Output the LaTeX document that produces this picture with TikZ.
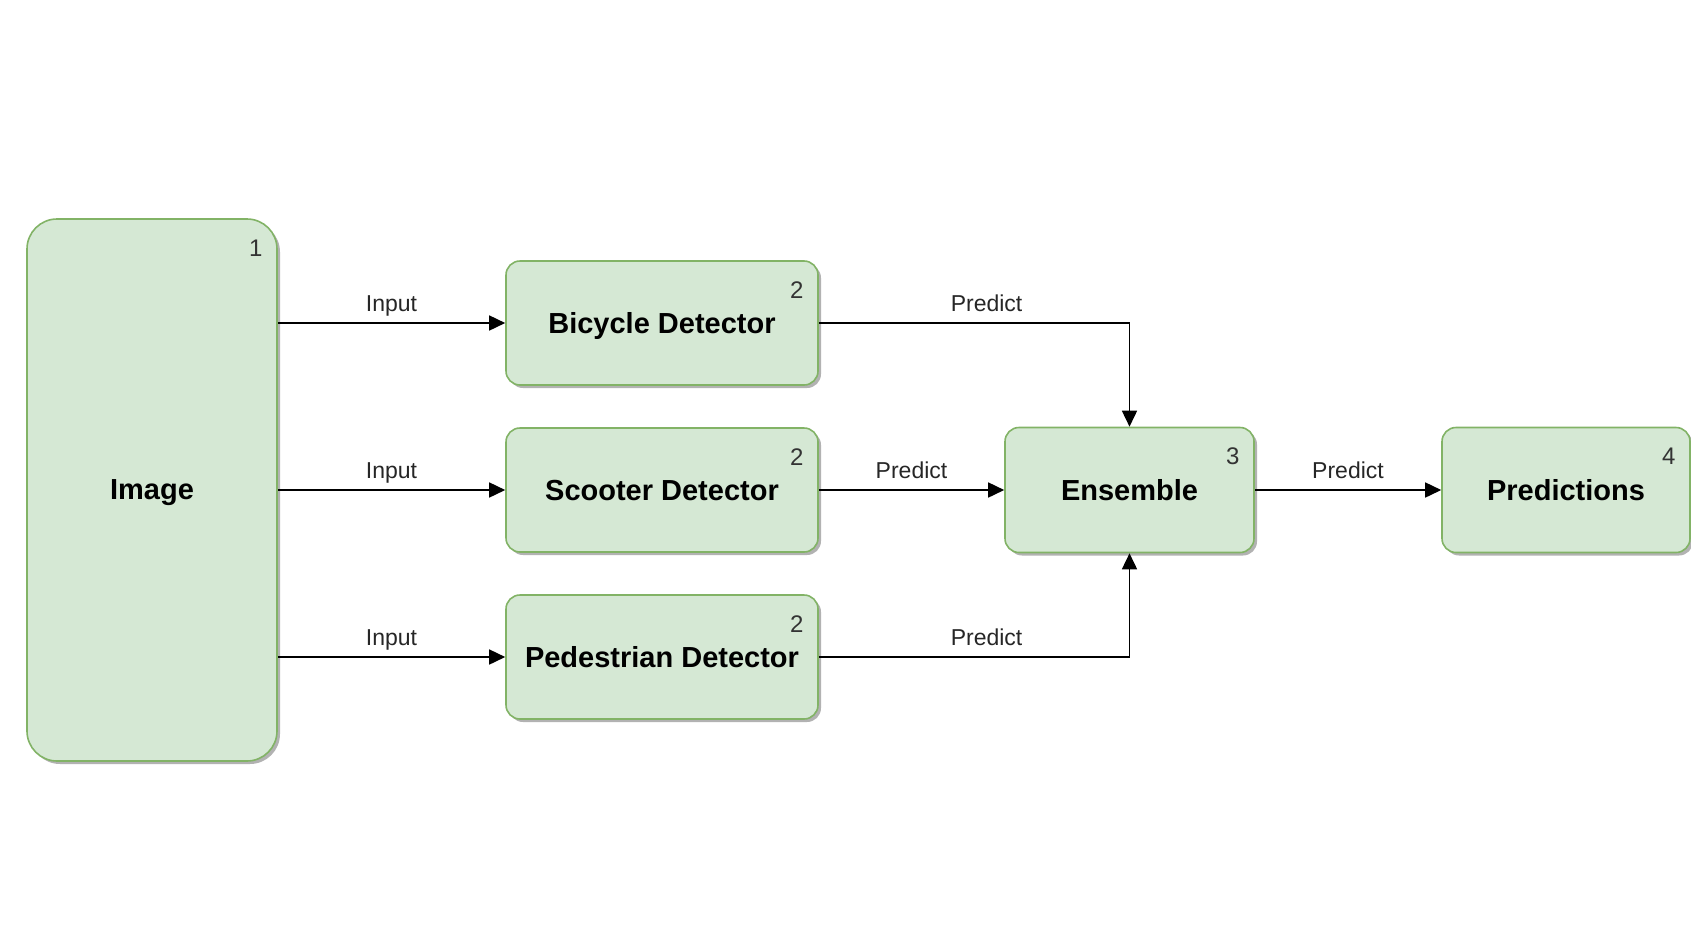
\documentclass[tikz,border=0pt]{standalone}
\usepackage{fontspec}
\setmainfont{Liberation Sans}
\usepackage{tikz}
\usetikzlibrary{arrows.meta,calc,shadows}

\definecolor{boxfill}{HTML}{D5E8D4}
\definecolor{boxline}{HTML}{82B366}

\begin{document}
\begin{tikzpicture}[x=0.5pt,y=-0.5pt,
    block/.style={draw=boxline, fill=boxfill, line width=0.8pt, rounded corners=7pt,
      drop shadow={shadow xshift=1.5pt, shadow yshift=-1.5pt, fill=black!30, opacity=1},
      font=\bfseries\fontsize{14.5}{17}\selectfont, align=center, inner sep=0pt, text depth=0pt},
    num/.style={font=\fontsize{12}{14}\selectfont, text=black!80, anchor=center, xshift=-11pt, yshift=-15pt},
    flow/.style={-{Triangle[length=8pt,width=7.5pt]}, line width=0.8pt},
    lbl/.style={font=\fontsize{11.5}{13}\selectfont, text=black!85, text depth=0pt, above=2pt}]
          \useasboundingbox (0,0) rectangle (1691,937);

          \node[block, rounded corners=15pt, minimum width=125pt, minimum height=271pt,
                label={[num]north east:1}] (Image) at (152,490) {Image};
          \node[block, minimum width=156pt, minimum height=62pt,
                label={[num]north east:2}] (Bicycle) at (662,323) {Bicycle Detector};
          \node[block, minimum width=156pt, minimum height=62pt,
                label={[num]north east:2}] (Scooter) at (662,490) {Scooter Detector};
          \node[block, minimum width=156pt, minimum height=62pt,
                label={[num]north east:2}] (Pedestrian) at (662,657) {Pedestrian Detector};
          \node[block, minimum width=124.5pt, minimum height=62.5pt,
                label={[num]north east:3}] (Ensemble) at (1129.5,490) {Ensemble};
          \node[block, minimum width=124pt, minimum height=62.5pt,
                label={[num]north east:4}] (Predictions) at (1566,490) {Predictions};

          \draw[flow] (Image.east |- Bicycle.west) to node[lbl, midway] {Input} (Bicycle.west);
          \draw[flow] (Image.east |- Scooter.west) to node[lbl, midway] {Input} (Scooter.west);
          \draw[flow] (Image.east |- Pedestrian.west) to node[lbl, midway] {Input} (Pedestrian.west);

          \draw[flow] (Bicycle.east) -| node[lbl, pos=0.27] {Predict} (Ensemble.north);
          \draw[flow] (Scooter.east) to node[lbl, midway] {Predict} (Ensemble.west);
          \draw[flow] (Pedestrian.east) -| node[lbl, pos=0.27] {Predict} (Ensemble.south);
          \draw[flow] (Ensemble.east) to node[lbl, midway] {Predict} (Predictions.west);
        \end{tikzpicture}
\end{document}
